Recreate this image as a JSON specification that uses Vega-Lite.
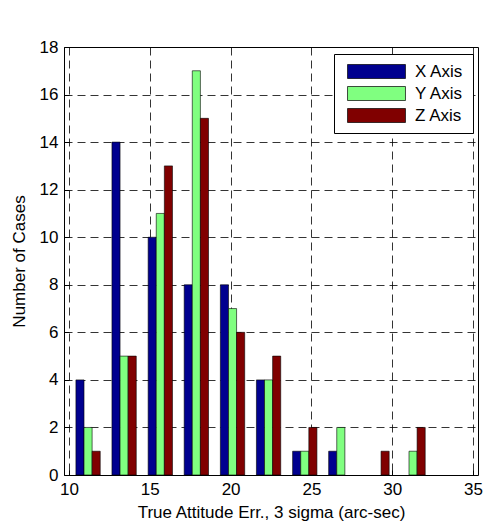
{
  "$schema": "https://vega.github.io/schema/vega-lite/v6.json",
  "width": 414,
  "height": 428,
  "autosize": "none",
  "padding": {"left": 64, "top": 47, "right": 12, "bottom": 49},
  "background": "white",
  "data": {"values": [
    {"center": 11.18, "series": "X Axis", "count": 4},
    {"center": 11.18, "series": "Y Axis", "count": 2},
    {"center": 11.18, "series": "Z Axis", "count": 1},
    {"center": 13.41, "series": "X Axis", "count": 14},
    {"center": 13.41, "series": "Y Axis", "count": 5},
    {"center": 13.41, "series": "Z Axis", "count": 5},
    {"center": 15.65, "series": "X Axis", "count": 10},
    {"center": 15.65, "series": "Y Axis", "count": 11},
    {"center": 15.65, "series": "Z Axis", "count": 13},
    {"center": 17.88, "series": "X Axis", "count": 8},
    {"center": 17.88, "series": "Y Axis", "count": 17},
    {"center": 17.88, "series": "Z Axis", "count": 15},
    {"center": 20.12, "series": "X Axis", "count": 8},
    {"center": 20.12, "series": "Y Axis", "count": 7},
    {"center": 20.12, "series": "Z Axis", "count": 6},
    {"center": 22.35, "series": "X Axis", "count": 4},
    {"center": 22.35, "series": "Y Axis", "count": 4},
    {"center": 22.35, "series": "Z Axis", "count": 5},
    {"center": 24.59, "series": "X Axis", "count": 1},
    {"center": 24.59, "series": "Y Axis", "count": 1},
    {"center": 24.59, "series": "Z Axis", "count": 2},
    {"center": 26.82, "series": "X Axis", "count": 1},
    {"center": 26.82, "series": "Y Axis", "count": 2},
    {"center": 26.82, "series": "Z Axis", "count": 0},
    {"center": 29.06, "series": "X Axis", "count": 0},
    {"center": 29.06, "series": "Y Axis", "count": 0},
    {"center": 29.06, "series": "Z Axis", "count": 1},
    {"center": 31.29, "series": "X Axis", "count": 0},
    {"center": 31.29, "series": "Y Axis", "count": 1},
    {"center": 31.29, "series": "Z Axis", "count": 2}
  ]},
  "transform": [{"filter": "datum.count > 0"}],
  "encoding": {
    "x": {"field": "center", "type": "quantitative",
      "scale": {"domain": [10, 35], "nice": false, "zero": false},
      "axis": {"values": [10, 15, 20, 25, 30, 35], "title": "True Attitude Err., 3 sigma (arc-sec)"}},
    "y": {"field": "count", "type": "quantitative",
      "scale": {"domain": [0, 18], "nice": false},
      "axis": {"values": [0, 2, 4, 6, 8, 10, 12, 14, 16, 18], "title": "Number of Cases"}},
    "color": {"field": "series", "type": "nominal",
      "scale": {"domain": ["X Axis", "Y Axis", "Z Axis"], "range": ["#00008F", "#80FF80", "#800000"]},
      "legend": {"title": null, "orient": "none", "legendX": 270, "legendY": 7,
        "symbolType": "M-4.14,-1H4.14V1H-4.14Z", "symbolSize": 196,
        "symbolOffset": 25, "labelOffset": 30,
        "symbolStrokeColor": "black", "symbolStrokeWidth": 0.7,
        "labelFontSize": 17, "labelFont": "Liberation Sans", "labelColor": "black",
        "strokeColor": "black", "fillColor": "white", "padding": 9, "rowPadding": 4,
        "symbolOpacity": 1}}
  },
  "layer": [
    {"transform": [{"filter": "datum.series === 'X Axis'"}],
     "mark": {"type": "bar", "width": 8.1, "xOffset": -8.1, "stroke": "black", "strokeWidth": 0.6, "opacity": 1}},
    {"transform": [{"filter": "datum.series === 'Y Axis'"}],
     "mark": {"type": "bar", "width": 8.1, "xOffset": 0, "stroke": "black", "strokeWidth": 0.6, "opacity": 1}},
    {"transform": [{"filter": "datum.series === 'Z Axis'"}],
     "mark": {"type": "bar", "width": 8.1, "xOffset": 8.1, "stroke": "black", "strokeWidth": 0.6, "opacity": 1}}
  ],
  "config": {
    "font": "Liberation Sans",
    "view": {"stroke": "black", "strokeWidth": 1},
    "axis": {
      "grid": true, "gridColor": "black", "gridDash": [8, 5], "gridOpacity": 1, "gridWidth": 0.8,
      "domain": false, "ticks": true, "tickSize": -5, "tickColor": "black", "tickWidth": 1,
      "labelFontSize": 17, "labelColor": "black", "labelFont": "Liberation Sans",
      "titleFontSize": 17, "titleFontWeight": "normal", "titleColor": "black", "titleFont": "Liberation Sans",
      "labelPadding": 11
    },
    "axisX": {"titlePadding": 7},
    "axisY": {"titlePadding": 11}
  }
}
